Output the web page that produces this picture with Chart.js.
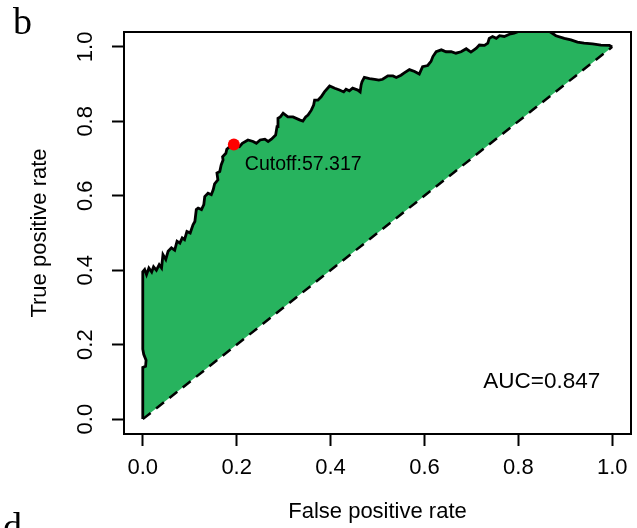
<!DOCTYPE html>
<html>
<head>
<meta charset="utf-8">
<script src="https://cdn.jsdelivr.net/npm/chart.js@4"></script>
<style>
  html, body { margin: 0; padding: 0; background: #fff; }
  #wrap { width: 637px; height: 528px; }
</style>
</head>
<body>
<div id="wrap"><canvas id="roc" width="637" height="528"></canvas></div>
<script>
// ROC curve: false positive rate / true positive rate
const fpr = [0, 0, 0.006, 0.007, 0.002, 0, 0, 0.004, 0.008, 0.013, 0.019, 0.023, 0.029, 0.035, 0.040,
  0.043, 0.049, 0.054, 0.061, 0.068, 0.073, 0.079, 0.084, 0.089, 0.094, 0.101, 0.107, 0.111, 0.114,
  0.118, 0.125, 0.130, 0.132, 0.139, 0.146, 0.150, 0.153, 0.160, 0.158, 0.164, 0.167, 0.171, 0.170,
  0.177, 0.179, 0.187, 0.194, 0.206, 0.212, 0.224, 0.235, 0.242, 0.250, 0.260, 0.267, 0.274, 0.283,
  0.286, 0.288, 0.293, 0.299, 0.309, 0.320, 0.334, 0.341, 0.347, 0.352, 0.359, 0.364, 0.366, 0.373,
  0.380, 0.387, 0.398, 0.409, 0.419, 0.428, 0.433, 0.440, 0.447, 0.458, 0.463, 0.465, 0.467, 0.472,
  0.483, 0.494, 0.503, 0.511, 0.522, 0.533, 0.540, 0.550, 0.557, 0.568, 0.579, 0.589, 0.596, 0.607,
  0.614, 0.618, 0.625, 0.636, 0.646, 0.657, 0.667, 0.678, 0.689, 0.699, 0.710, 0.717, 0.728, 0.735,
  0.738, 0.745, 0.753, 0.760, 0.770, 0.781, 0.791, 0.802, 0.834, 0.866, 0.880, 0.898, 0.912, 0.926,
  0.940, 0.958, 0.976, 0.994, 1.0];
const tpr = [0, 0.139, 0.142, 0.158, 0.174, 0.188, 0.396, 0.402, 0.388, 0.406, 0.395, 0.409, 0.400, 0.415, 0.406,
  0.442, 0.429, 0.451, 0.460, 0.454, 0.478, 0.473, 0.487, 0.482, 0.504, 0.500, 0.522, 0.531, 0.563,
  0.567, 0.563, 0.576, 0.598, 0.607, 0.603, 0.616, 0.632, 0.643, 0.661, 0.665, 0.683, 0.696, 0.705,
  0.714, 0.725, 0.734, 0.7375, 0.732, 0.741, 0.750, 0.746, 0.741, 0.750, 0.752, 0.746, 0.752, 0.763,
  0.786, 0.808, 0.812, 0.822, 0.812, 0.812, 0.804, 0.801, 0.812, 0.817, 0.830, 0.844, 0.857, 0.857,
  0.866, 0.879, 0.895, 0.889, 0.884, 0.879, 0.886, 0.882, 0.889, 0.884, 0.879, 0.897, 0.906, 0.918,
  0.915, 0.913, 0.911, 0.913, 0.922, 0.922, 0.918, 0.924, 0.930, 0.939, 0.934, 0.927, 0.947, 0.950,
  0.961, 0.974, 0.987, 0.992, 0.987, 0.987, 0.983, 0.987, 0.995, 0.986, 0.996, 1.005, 1.004, 1.010,
  1.023, 1.028, 1.023, 1.030, 1.028, 1.034, 1.037, 1.042, 1.047, 1.042, 1.030, 1.023, 1.019, 1.013,
  1.010, 1.008, 1.005, 1.004, 1.0];

// chance line
const refX = [0, 1];
const refY = [0, 1];

// best threshold
const cutoffFpr = [0.194];
const cutoffTpr = [0.7375];
const cutoffValue = "57.317";
const aucValue = "0.847";

const axisTicks = [0, 0.2, 0.4, 0.6, 0.8, 1.0];

const toPoints = (xs, ys) => xs.map((x, i) => ({ x: x, y: ys[i] }));

Chart.defaults.font.family = '"Liberation Sans", Arial, sans-serif';
Chart.defaults.color = '#000';

const setTicks = scale => { scale.ticks = axisTicks.map(v => ({ value: v })); };

// frame, annotations and panel letters
const decorations = {
  id: 'decorations',
  afterDatasetsDraw(chart) {
    const { ctx, chartArea: a, scales: { x, y } } = chart;
    ctx.save();
    ctx.strokeStyle = '#000';
    ctx.lineWidth = 2;
    ctx.strokeRect(a.left, a.top, a.right - a.left, a.bottom - a.top);

    ctx.fillStyle = '#000';
    ctx.textBaseline = 'middle';
    ctx.font = '19.5px "Liberation Sans", Arial, sans-serif';
    ctx.textAlign = 'left';
    ctx.fillText('Cutoff:' + cutoffValue,
      x.getPixelForValue(cutoffFpr[0]) + 11, y.getPixelForValue(cutoffTpr[0]) + 20);

    ctx.font = '22.5px "Liberation Sans", Arial, sans-serif';
    ctx.textAlign = 'center';
    ctx.fillText('AUC=' + aucValue, x.getPixelForValue(0.85), y.getPixelForValue(0.1));

    ctx.font = '38px "Liberation Serif", "DejaVu Serif", serif';
    ctx.textAlign = 'left';
    ctx.textBaseline = 'alphabetic';
    ctx.fillText('b', 13, 34);
    ctx.fillText('d', 3, 539);
    ctx.restore();
  }
};

const ctx = document.getElementById('roc').getContext('2d');
new Chart(ctx, {
  type: 'line',
  data: {
    datasets: [
      {
        data: toPoints(cutoffFpr, cutoffTpr),
        showLine: false,
        pointRadius: 6,
        pointBackgroundColor: '#ff0000',
        pointBorderWidth: 0
      },
      {
        data: toPoints(refX, refY),
        borderColor: '#000',
        borderWidth: 2.5,
        borderDash: [10, 7],
        pointRadius: 0,
        fill: false
      },
      {
        data: toPoints(fpr, tpr),
        borderColor: '#000',
        borderWidth: 2.8,
        backgroundColor: 'rgb(39,179,94)',
        pointRadius: 0,
        tension: 0,
        fill: 1
      }
    ]
  },
  options: {
    responsive: false,
    devicePixelRatio: 1,
    animation: false,
    layout: { padding: { left: 0, right: 4, top: 32, bottom: 0 } },
    plugins: { legend: { display: false }, tooltip: { enabled: false } },
    scales: {
      x: {
        type: 'linear',
        min: -0.04,
        max: 1.04,
        afterBuildTicks: setTicks,
        afterFit: s => { s.height = 94; },
        border: { display: false },
        grid: { drawOnChartArea: false, tickLength: 12, tickWidth: 2, tickColor: '#000' },
        ticks: { autoSkip: false, padding: 9, font: { size: 22 }, callback: v => v.toFixed(1) },
        title: { display: true, text: 'False positive rate', font: { size: 22 }, padding: { top: 0, bottom: 3 } }
      },
      y: {
        type: 'linear',
        min: -0.04,
        max: 1.04,
        afterBuildTicks: setTicks,
        afterFit: s => { s.width = 124; },
        border: { display: false },
        grid: { drawOnChartArea: false, tickLength: 12, tickWidth: 2, tickColor: '#000' },
        ticks: {
          autoSkip: false, padding: 10.5, minRotation: 90, maxRotation: 90, crossAlign: 'center',
          font: { size: 22 }, callback: v => v.toFixed(1)
        },
        title: { display: true, text: 'True positive rate', font: { size: 22 }, padding: { top: 27, bottom: 0 } }
      }
    }
  },
  plugins: [decorations]
});
</script>
</body>
</html>
